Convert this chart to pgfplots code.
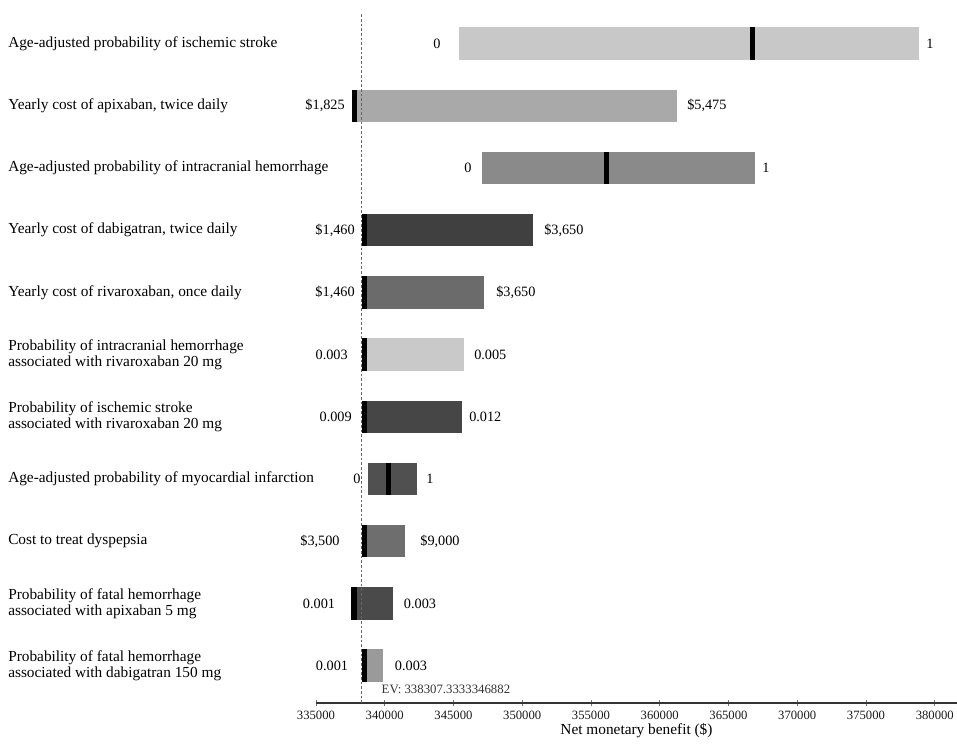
\documentclass[border=0pt]{standalone}
\usepackage{fontspec}
\setmainfont{Liberation Serif}
\usepackage{pgfplots}
\pgfplotsset{compat=1.18}
\definecolor{cA}{HTML}{C8C8C8}
\definecolor{cB}{HTML}{A9A9A9}
\definecolor{cC}{HTML}{8A8A8A}
\definecolor{cD}{HTML}{404040}
\definecolor{cE}{HTML}{6B6B6B}
\definecolor{cF}{HTML}{C9C9C9}
\definecolor{cG}{HTML}{464646}
\definecolor{cH}{HTML}{505050}
\definecolor{cI}{HTML}{6E6E6E}
\definecolor{cJ}{HTML}{4A4A4A}
\definecolor{cK}{HTML}{9A9A9A}
\begin{document}
\begin{tikzpicture}
\useasboundingbox (-237pt,-30pt) rectangle (480.75pt,527.25pt);
\begin{axis}[
  at={(0,0)}, anchor=south west,
  scale only axis, width=480.75pt, height=527.25pt,
  xmin=335000, xmax=381618, ymin=-0.60, ymax=10.70,
  clip=false,
  axis x line*=bottom, axis y line=none,
  ytick=\empty,
  xtick={335000,340000,345000,350000,355000,360000,365000,370000,375000,380000},
  xticklabels={335000,340000,345000,350000,355000,360000,365000,370000,375000,380000},
  scaled x ticks=false,
  tick align=center, major tick length=5pt,
  tick style={black!55, line width=0.6pt},
  axis line style={black!80, line width=0.9pt},
  x tick label style={font=\fontsize{9.5}{10}\selectfont, text=black!90},
  xlabel={Net monetary benefit (\$)},
  xlabel style={font=\fontsize{11.5}{12}\selectfont, yshift=4pt},
]
% bars
\addplot[fill=cA, draw=none] coordinates {(345400,9.74) (378855,9.74) (378855,10.26) (345400,10.26)} --cycle;
\addplot[fill=cB, draw=none] coordinates {(337620,8.74) (361255,8.74) (361255,9.26) (337620,9.26)} --cycle;
\addplot[fill=cC, draw=none] coordinates {(347070,7.74) (366930,7.74) (366930,8.26) (347070,8.26)} --cycle;
\addplot[fill=cD, draw=none] coordinates {(338330,6.74) (350770,6.74) (350770,7.26) (338330,7.26)} --cycle;
\addplot[fill=cE, draw=none] coordinates {(338330,5.74) (347200,5.74) (347200,6.26) (338330,6.26)} --cycle;
\addplot[fill=cF, draw=none] coordinates {(338330,4.74) (345740,4.74) (345740,5.26) (338330,5.26)} --cycle;
\addplot[fill=cG, draw=none] coordinates {(338330,3.74) (345600,3.74) (345600,4.26) (338330,4.26)} --cycle;
\addplot[fill=cH, draw=none] coordinates {(338780,2.74) (342345,2.74) (342345,3.26) (338780,3.26)} --cycle;
\addplot[fill=cI, draw=none] coordinates {(338330,1.74) (341470,1.74) (341470,2.26) (338330,2.26)} --cycle;
\addplot[fill=cJ, draw=none] coordinates {(337545,0.74) (340600,0.74) (340600,1.26) (337545,1.26)} --cycle;
\addplot[fill=cK, draw=none] coordinates {(338330,-0.26) (339870,-0.26) (339870,0.26) (338330,0.26)} --cycle;
% base-case markers
\addplot[fill=black, draw=none] coordinates {(366563,9.74) (366927,9.74) (366927,10.26) (366563,10.26)} --cycle;
\addplot[fill=black, draw=none] coordinates {(337620,8.74) (337984,8.74) (337984,9.26) (337620,9.26)} --cycle;
\addplot[fill=black, draw=none] coordinates {(355945,7.74) (356309,7.74) (356309,8.26) (355945,8.26)} --cycle;
\addplot[fill=black, draw=none] coordinates {(338330,6.74) (338694,6.74) (338694,7.26) (338330,7.26)} --cycle;
\addplot[fill=black, draw=none] coordinates {(338330,5.74) (338694,5.74) (338694,6.26) (338330,6.26)} --cycle;
\addplot[fill=black, draw=none] coordinates {(338330,4.74) (338694,4.74) (338694,5.26) (338330,5.26)} --cycle;
\addplot[fill=black, draw=none] coordinates {(338330,3.74) (338694,3.74) (338694,4.26) (338330,4.26)} --cycle;
\addplot[fill=black, draw=none] coordinates {(340127,2.74) (340491,2.74) (340491,3.26) (340127,3.26)} --cycle;
\addplot[fill=black, draw=none] coordinates {(338330,1.74) (338694,1.74) (338694,2.26) (338330,2.26)} --cycle;
\addplot[fill=black, draw=none] coordinates {(337545,0.74) (337982,0.74) (337982,1.26) (337545,1.26)} --cycle;
\addplot[fill=black, draw=none] coordinates {(338330,-0.26) (338694,-0.26) (338694,0.26) (338330,0.26)} --cycle;
% expected value line
\addplot[black!60, line width=0.5pt, dash pattern=on 2pt off 1.5pt] coordinates {(338307.33,-0.60) (338307.33,10.50)};
\node[anchor=west, font=\fontsize{9.6}{10}\selectfont, text=black!80] at (axis cs:339436,-0.38) {EV: 338307.3333346882};
% row labels
\begin{scope}[every node/.style={anchor=west, align=left, inner xsep=0pt, font=\fontsize{11.5}{12.3}\selectfont}]
\node at (axis cs:312600,10) {Age-adjusted probability of ischemic stroke};
\node at (axis cs:312600,9) {Yearly cost of apixaban, twice daily};
\node at (axis cs:312600,8) {Age-adjusted probability of intracranial hemorrhage};
\node at (axis cs:312600,7) {Yearly cost of dabigatran, twice daily};
\node at (axis cs:312600,6) {Yearly cost of rivaroxaban, once daily};
\node at (axis cs:312600,5) {Probability of intracranial hemorrhage\\associated with rivaroxaban 20 mg};
\node at (axis cs:312600,4) {Probability of ischemic stroke\\associated with rivaroxaban 20 mg};
\node at (axis cs:312600,3) {Age-adjusted probability of myocardial infarction};
\node at (axis cs:312600,2) {Cost to treat dyspepsia};
\node at (axis cs:312600,1) {Probability of fatal hemorrhage\\associated with apixaban 5 mg};
\node at (axis cs:312600,0) {Probability of fatal hemorrhage\\associated with dabigatran 150 mg};
\end{scope}
% value labels
\begin{scope}[every node/.style={font=\fontsize{10.7}{12}\selectfont, inner sep=0pt}]
\node at (axis cs:343800,10) {0};
\node at (axis cs:379655,10) {1};
\node[anchor=east] at (axis cs:337109,9) {\$1,825};
\node[anchor=west] at (axis cs:361982,9) {\$5,475};
\node at (axis cs:346055,8) {0};
\node at (axis cs:367727,8) {1};
\node[anchor=east] at (axis cs:337836,7) {\$1,460};
\node[anchor=west] at (axis cs:351582,7) {\$3,650};
\node[anchor=east] at (axis cs:337836,6) {\$1,460};
\node[anchor=west] at (axis cs:348091,6) {\$3,650};
\node[anchor=east] at (axis cs:337327,5) {0.003};
\node[anchor=west] at (axis cs:346491,5) {0.005};
\node[anchor=east] at (axis cs:337618,4) {0.009};
\node[anchor=west] at (axis cs:346127,4) {0.012};
\node at (axis cs:337982,3) {0};
\node at (axis cs:343291,3) {1};
\node at (axis cs:335291,2) {\$3,500};
\node at (axis cs:344018,2) {\$9,000};
\node at (axis cs:335218,1) {0.001};
\node at (axis cs:342564,1) {0.003};
\node at (axis cs:336164,0) {0.001};
\node at (axis cs:341909,0) {0.003};
\end{scope}
\end{axis}
\end{tikzpicture}
\end{document}
